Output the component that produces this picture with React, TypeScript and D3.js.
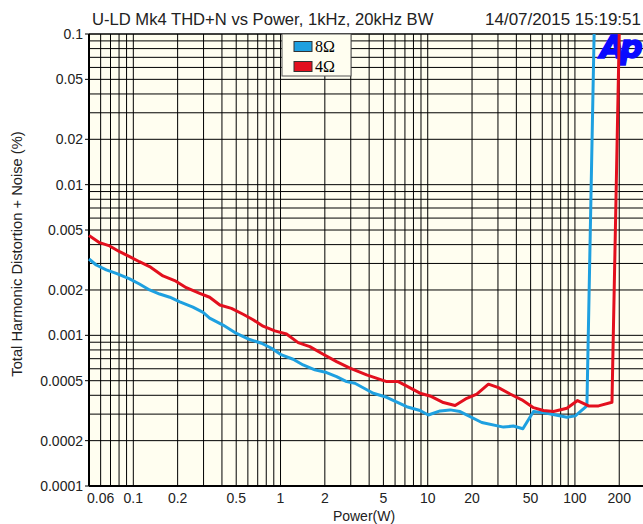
import React from "react";
import * as d3 from "d3";

// THD+N vs output power
const power8 = [0.05, 0.056, 0.0655, 0.0766, 0.0944, 0.11, 0.129, 0.151, 0.177, 0.207, 0.254, 0.298, 0.33, 0.407, 0.502, 0.602, 0.743, 0.869, 1.016, 1.218, 1.424, 1.711, 2.055, 2.404, 2.812, 3.2, 4.265, 5.262, 7.195, 8.865, 10.1, 12.13, 14.18, 16.59, 23.29, 32.68, 38.22, 44.3, 52.3, 64.5, 88.2, 100.5, 120.6, 135];
const thd8 = [0.00321, 0.00293, 0.00272, 0.00258, 0.00237, 0.00219, 0.002, 0.00188, 0.00179, 0.00167, 0.00154, 0.00142, 0.0013, 0.00117, 0.00103, 0.000946, 0.000886, 0.000821, 0.000741, 0.000694, 0.000636, 0.00059, 0.000566, 0.000532, 0.000493, 0.000481, 0.000413, 0.000388, 0.000336, 0.000317, 0.000296, 0.000315, 0.00032, 0.000312, 0.000264, 0.000246, 0.00025, 0.00024, 0.000312, 0.000304, 0.000286, 0.000292, 0.00034, 0.1];

const power4 = [0.05, 0.059, 0.069, 0.0807, 0.0944, 0.11, 0.129, 0.159, 0.191, 0.229, 0.2825, 0.33, 0.387, 0.464, 0.557, 0.651, 0.761, 0.915, 1.098, 1.317, 1.582, 1.949, 2.404, 2.961, 3.846, 5.262, 6.31, 8.865, 10.37, 12.77, 15.34, 18.42, 21.54, 25.84, 30.22, 36.29, 43.6, 52.3, 61.1, 71.5, 88.2, 104.2, 123.7, 144.7, 178.5, 200];
const thd4 = [0.00459, 0.00412, 0.00392, 0.00359, 0.00333, 0.00308, 0.00286, 0.00248, 0.00231, 0.00207, 0.0019, 0.00179, 0.00159, 0.00151, 0.00138, 0.00127, 0.00115, 0.00107, 0.00102, 0.000894, 0.000841, 0.000749, 0.000669, 0.000605, 0.000546, 0.000493, 0.000493, 0.000413, 0.000396, 0.000358, 0.000342, 0.000382, 0.000407, 0.000474, 0.00045, 0.000408, 0.000373, 0.000331, 0.000317, 0.000312, 0.000328, 0.000369, 0.00034, 0.00034, 0.00036, 0.1];

const seriesNames = ["8Ω", "4Ω"];
const seriesColors = ["#1ea0e0", "#e3101e"];

const xTicks = [0.06, 0.1, 0.2, 0.5, 1, 2, 5, 10, 20, 50, 100, 200];
const xTickLabels = ["0.06", "0.1", "0.2", "0.5", "1", "2", "5", "10", "20", "50", "100", "200"];
const yTicks = [0.1, 0.05, 0.02, 0.01, 0.005, 0.002, 0.001, 0.0005, 0.0002, 0.0001];
const yTickLabels = ["0.1", "0.05", "0.02", "0.01", "0.005", "0.002", "0.001", "0.0005", "0.0002", "0.0001"];

const W = 643;
const H = 524;
const left = 89;
const top = 34;
const bottom = 486;
const right = 643;
const font = "'Liberation Sans', Arial, sans-serif";

const App = () => {
  const x = d3.scaleLog().domain([0.05, 290]).range([left, right]);
  const y = d3.scaleLog().domain([0.0001, 0.1]).range([bottom, top]);

  // grid: every 1..9 step of each decade inside the domain
  const vGrid: number[] = [];
  for (let e = -2; e <= 2; e++) {
    for (let m = 1; m <= 9; m++) {
      const v = m * Math.pow(10, e);
      if (v > 0.0501 && x(v) < right) vGrid.push(v);
    }
  }
  const hGrid: number[] = [];
  for (let e = -4; e <= -2; e++) {
    for (let m = 1; m <= 9; m++) {
      const v = m * Math.pow(10, e);
      if (v > 0.000101 && v < 0.0999) hGrid.push(v);
    }
  }

  const line = d3
    .line<[number, number]>()
    .x((d) => x(d[0]))
    .y((d) => y(d[1]));

  const series = [
    power8.map((p, i) => [p, thd8[i]] as [number, number]),
    power4.map((p, i) => [p, thd4[i]] as [number, number]),
  ];

  return (
    <div style={{ position: "absolute", left: 0, top: 0 }}>
      <svg width={W} height={H} style={{ display: "block", background: "#fff" }}>
        <rect x={left} y={top} width={right - left} height={bottom - top} fill="#fffef0" />

        {/* grid */}
        {vGrid.map((v) => (
          <line key={"v" + v} x1={x(v)} x2={x(v)} y1={top} y2={bottom} stroke="#000" strokeWidth={1} />
        ))}
        {hGrid.map((v) => (
          <line key={"h" + v} x1={left} x2={right} y1={y(v)} y2={y(v)} stroke="#000" strokeWidth={1} />
        ))}

        {/* frame */}
        <line x1={left} x2={right} y1={top} y2={top} stroke="#000" strokeWidth={1.5} />
        <line x1={left} x2={right} y1={bottom} y2={bottom} stroke="#000" strokeWidth={2} />
        <line x1={left} x2={left} y1={top} y2={bottom} stroke="#000" strokeWidth={2} />

        {/* Ap logo */}
        <text x={600} y={58} fontFamily="'DejaVu Sans', sans-serif" fontWeight={900} fontStyle="italic" fontSize={32} fill="#0a0aff" stroke="#0a0aff" strokeWidth={1.6} letterSpacing={-5}>
          Ap
        </text>

        {/* curves */}
        {series.map((s, i) => (
          <path key={i} d={line(s) || ""} fill="none" stroke={seriesColors[i]} strokeWidth={3} strokeLinejoin="round" />
        ))}

        {/* legend */}
        <rect x={282} y={top} width={69} height={42} fill="#fffef0" stroke="#555" strokeWidth={1} />
        {seriesNames.map((n, i) => (
          <g key={n}>
            <rect x={294} y={41.5 + i * 20} width={18} height={10} fill={seriesColors[i]} stroke="#333" strokeWidth={1} />
            <text x={315} y={51.5 + i * 20} fontFamily="'Liberation Serif', serif" fontSize={16} fill="#000">
              {n}
            </text>
          </g>
        ))}

        {/* y ticks */}
        {yTicks.map((v, i) => (
          <g key={"yt" + v}>
            <line x1={left - 4} x2={left} y1={y(v)} y2={y(v)} stroke="#000" strokeWidth={1} />
            <text x={83} y={y(v)} dy="0.35em" textAnchor="end" fontFamily={font} fontSize={14} fill="#222">
              {yTickLabels[i]}
            </text>
          </g>
        ))}

        {/* x ticks */}
        {xTicks.map((v, i) => (
          <text key={"xt" + v} x={x(v)} y={503} textAnchor="middle" fontFamily={font} fontSize={14} fill="#222">
            {xTickLabels[i]}
          </text>
        ))}

        {/* titles */}
        <text x={92} y={25} fontFamily={font} fontSize={16.6} fill="#222">
          U-LD Mk4 THD+N vs Power, 1kHz, 20kHz BW
        </text>
        <text x={641} y={25} textAnchor="end" fontFamily={font} fontSize={17} fill="#222">
          14/07/2015 15:19:51
        </text>
        <text x={364} y={521} textAnchor="middle" fontFamily={font} fontSize={14} fill="#222">
          Power(W)
        </text>
        <text transform={`translate(22,254) rotate(-90)`} textAnchor="middle" fontFamily={font} fontSize={14.7} fill="#222">
          Total Harmonic Distortion + Noise (%)
        </text>
      </svg>
    </div>
  );
};

export default App;
